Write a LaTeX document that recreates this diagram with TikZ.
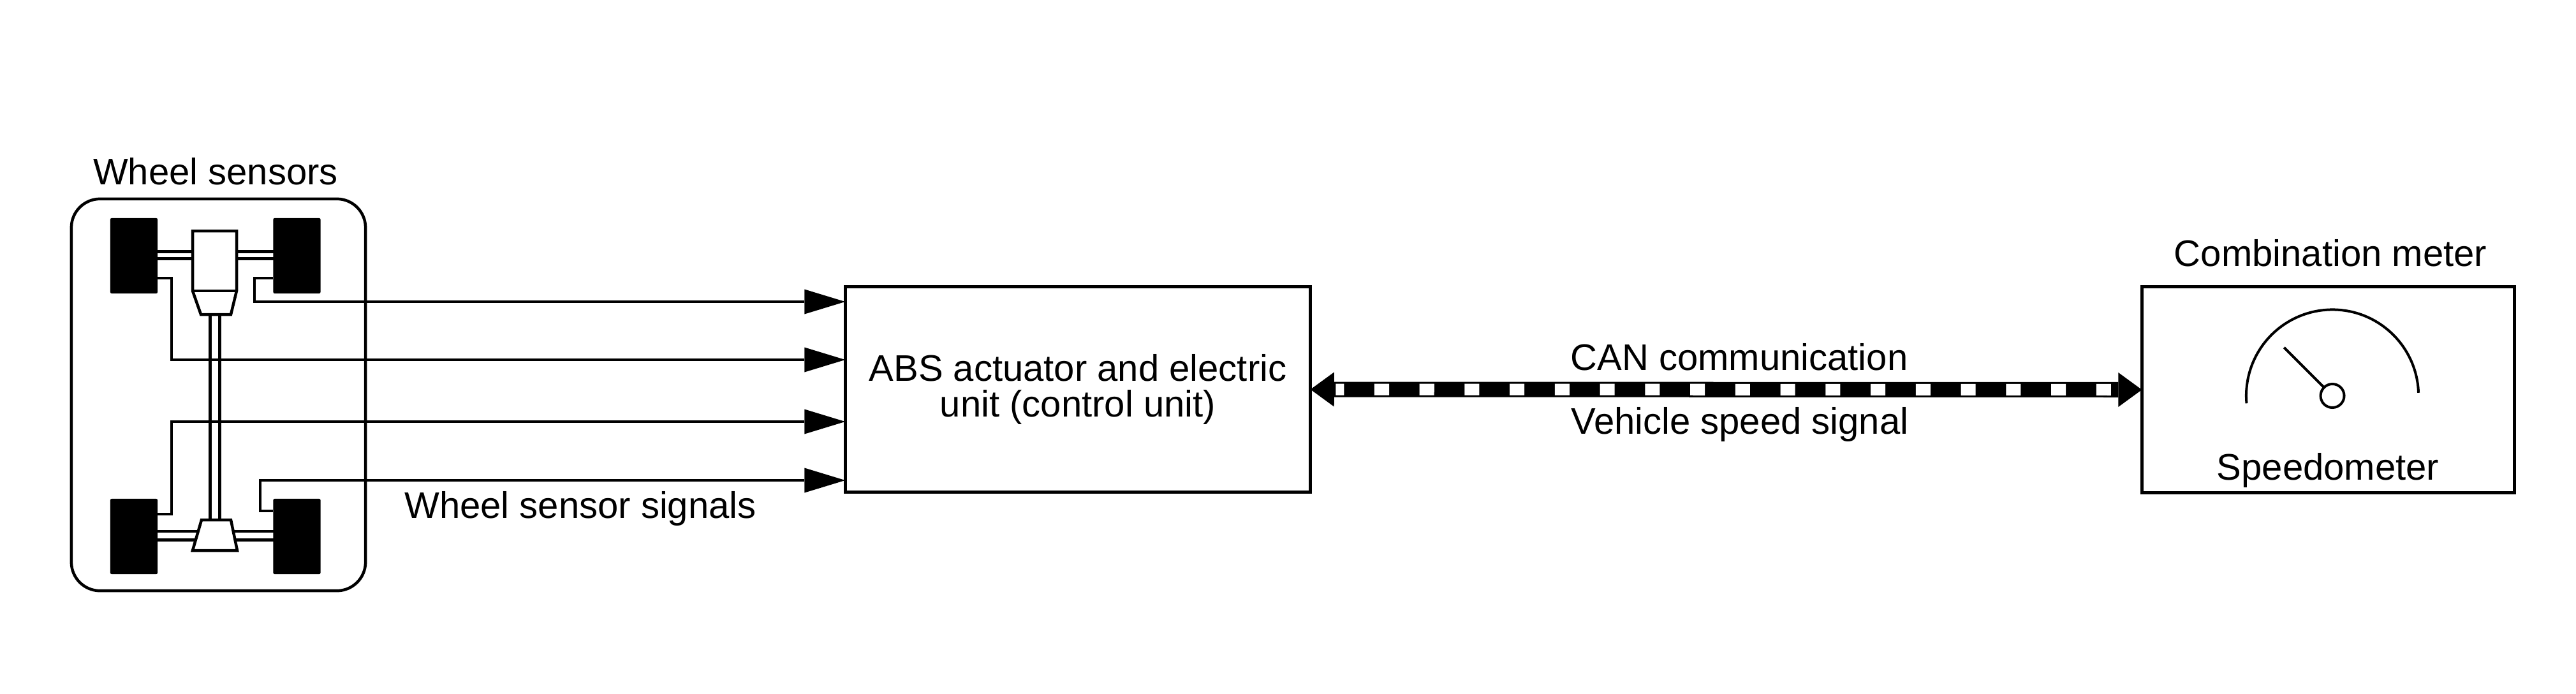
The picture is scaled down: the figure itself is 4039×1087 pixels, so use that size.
\documentclass[tikz,border=0pt]{standalone}
\usepackage{fontspec}
\setmainfont{Liberation Sans}
\usetikzlibrary{arrows.meta}
\tikzset{
  cantip/.tip={Triangle[length=0.37cm,width=0.54cm,line width=0pt]},
  sigtip/.tip={Triangle[length=0.64cm,width=0.39cm,line width=0pt]}
}
\begin{document}
\begin{tikzpicture}[x=0.01cm,y=-0.01cm,
  every node/.style={font=\fontsize{16.5pt}{15.9pt}\selectfont, inner sep=0pt, outer sep=0pt},
  blockbox/.style={draw, line width=0.05cm},
  wheel/.style={fill=black, rounded corners=0.02cm, minimum width=0.74cm, minimum height=1.18cm},
  part/.style={draw, fill=white, line width=0.045cm, line join=miter},
  thinline/.style={line width=0.045cm},
  gaugeline/.style={line width=0.04cm},
  sig/.style={line width=0.043cm, -sigtip}
]
\useasboundingbox (0,0) rectangle (4039,1087);

% ---------- wheel sensors group ----------
\node[draw, line width=0.045cm, rounded corners=0.45cm, minimum width=4.61cm, minimum height=6.14cm] (ws) at (342.5,619) {};
\node[anchor=base] (wslabel) at (338,289) {Wheel sensors};

% axles and drive shaft
\draw[thinline] (210,394.5) -- (466,394.5);
\draw[thinline] (210,405.5) -- (466,405.5);
\draw[thinline] (210,833) -- (466,833);
\draw[thinline] (210,846.5) -- (466,846.5);
\draw[thinline] (329.5,480) -- (329.5,830);
\draw[thinline] (344.5,480) -- (344.5,830);

% transmission (front) and differential (rear)
\draw[part] (302,362) -- (371,362) -- (371,456) -- (362,493) -- (315,493) -- (302,456) -- cycle;
\draw[thinline] (302,456) -- (371,456);
\draw[part] (316,815) -- (362,815) -- (372,863) -- (302,863) -- cycle;

% wheels
\node[wheel] (wtl) at (210,401) {};
\node[wheel] (wtr) at (465.5,401) {};
\node[wheel] (wbl) at (210,841) {};
\node[wheel] (wbr) at (465.5,841) {};

% ---------- ABS unit ----------
\node[blockbox, minimum width=7.29cm, minimum height=3.22cm, align=center] (abs) at (1690,610.5)
  {ABS actuator and electric\\unit (control unit)};

% sensor signal wires
\coordinate (k1) at (399,473);
\coordinate (k2) at (269,564);
\coordinate (k3) at (269,661);
\coordinate (k4) at (408,753);
\draw[sig] ([yshift=0.24cm]wtr.south west) -| (k1) -- (k1 -| abs.west);
\draw[sig] ([yshift=0.24cm]wtl.south east) -| (k2) -- (k2 -| abs.west);
\draw[sig] ([yshift=-0.24cm]wbl.north east) -| (k3) -- (k3 -| abs.west);
\draw[sig] ([yshift=-0.19cm]wbr.north west) -| (k4) -- (k4 -| abs.west);
\node[anchor=base] (wsslabel) at (910,812) {Wheel sensor signals};

% ---------- combination meter ----------
\node[blockbox, minimum width=5.84cm, minimum height=3.23cm] (meter) at (3650.5,611) {};
\node[anchor=base] (cmlabel) at (3654,417) {Combination meter};
\node[anchor=base] (spdlabel) at (3650,752) {Speedometer};
\coordinate (gc) at (3657,620.5);
\draw[gaugeline] ([shift={(2:1.35cm)}]gc) arc[start angle=2, end angle=185, radius=1.35cm];
\draw[gaugeline] (gc) circle[radius=0.185cm];
\draw[gaugeline] ([shift={(135:0.185cm)}]gc) -- ([shift={(135:1.07cm)}]gc);

% ---------- CAN line ----------
\draw[line width=0.24cm, cantip-cantip] (abs.east) -- (meter.west);
\draw[white, line width=0.18cm, dash pattern=on 0.23cm off 0.477cm, dash phase=0.10cm,
      shorten <=0.395cm, shorten >=0.40cm] (abs.east) -- (meter.west);
\node[anchor=base] (canlabel) at (2727,580) {CAN communication};
\node[anchor=base] (vsslabel) at (2728,680) {Vehicle speed signal};
\end{tikzpicture}
\end{document}
